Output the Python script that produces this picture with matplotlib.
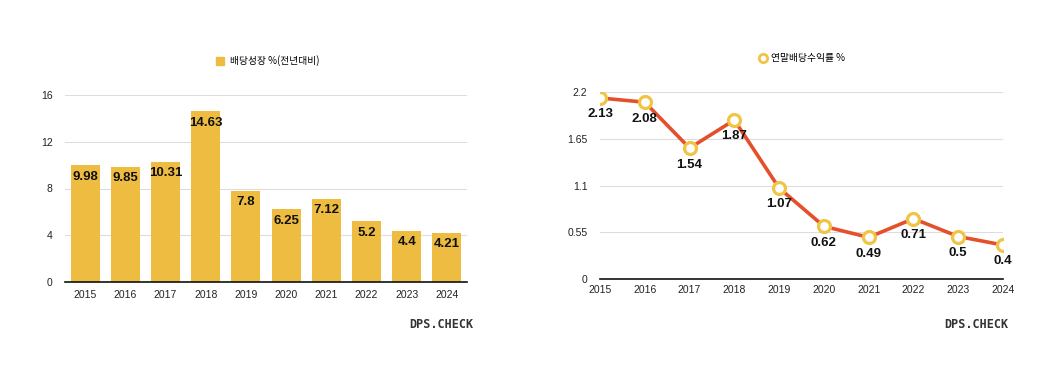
import matplotlib
matplotlib.use("Agg")
import matplotlib.pyplot as plt
from matplotlib.lines import Line2D
from matplotlib.patches import Patch

plt.rcParams['font.family'] = ['Noto Sans CJK KR', 'DejaVu Sans']

years = ['2015', '2016', '2017', '2018', '2019', '2020', '2021', '2022', '2023', '2024']
growth = [9.98, 9.85, 10.31, 14.63, 7.8, 6.25, 7.12, 5.2, 4.4, 4.21]
yield_pct = [2.13, 2.08, 1.54, 1.87, 1.07, 0.62, 0.49, 0.71, 0.5, 0.4]
growth_ticks = [0, 4, 8, 12, 16]
yield_ticks = [0, 0.55, 1.1, 1.65, 2.2]
growth_label = '배당성장 %(전년대비)'
yield_label = '연말배당수익률 %'

BAR = '#EDBC40'
LINE = '#E4502C'
RING = '#F0C445'
GRID = '#DDDDDD'
NUMFONT = 'Liberation Sans'

W, H = 1040, 388
fig = plt.figure(figsize=(W / 100, H / 100), dpi=100)

def ax_rect(x0, y0, x1, y1):
    return [x0 / W, 1 - y1 / H, (x1 - x0) / W, (y1 - y0) / H]

# Left bar chart
ax1 = fig.add_axes(ax_rect(65, 95, 467, 282))
x = list(range(len(years)))
ax1.bar(x, growth, width=0.72, color=BAR, zorder=2)
ax1.set_xlim(-0.5, len(years) - 0.5)
ax1.set_ylim(0, 16)
ax1.set_yticks(growth_ticks)
ax1.set_yticklabels([str(t) for t in growth_ticks])
ax1.set_xticks(x)
ax1.set_xticklabels(years)
for i, v in enumerate(growth):
    ax1.annotate(f'{v:g}', (i, v), xytext=(0, -4), textcoords='offset points',
                 ha='center', va='top', fontsize=9.5, fontweight='bold',
                 color='#111111', family=NUMFONT, zorder=3)
ax1.grid(axis='y', color=GRID, linewidth=0.8, zorder=0)
for s in ['top', 'right', 'left']:
    ax1.spines[s].set_visible(False)
ax1.spines['bottom'].set_color('#111111')
ax1.spines['bottom'].set_linewidth(1.2)
ax1.tick_params(length=0, labelsize=7.5, colors='#222222', pad=6)
ax1.tick_params(axis='y', pad=9)
for lab in ax1.get_xticklabels() + ax1.get_yticklabels():
    lab.set_family(NUMFONT)
fig.legend(handles=[Patch(color=BAR)], labels=[growth_label],
           loc='center', bbox_to_anchor=(268 / W, 1 - 61 / H), frameon=False,
           fontsize=7, handlelength=0.8, handleheight=0.8, handletextpad=0.6)

# Right line chart
ax2 = fig.add_axes(ax_rect(600, 92, 1003, 279))
ax2.plot(x, yield_pct, color=LINE, linewidth=2.6, zorder=2)
ax2.plot(x, yield_pct, linestyle='none', marker='o', markersize=8.6,
         markerfacecolor='white', markeredgecolor=RING, markeredgewidth=2.3, zorder=3)
ax2.set_xlim(0, len(years) - 1)
ax2.set_ylim(0, 2.2)
ax2.set_yticks(yield_ticks)
ax2.set_yticklabels([f'{t:g}' for t in yield_ticks])
ax2.set_xticks(x)
ax2.set_xticklabels(years)
for i, v in enumerate(yield_pct):
    ax2.annotate(f'{v:g}', (i, v), xytext=(0, -7.5), textcoords='offset points',
                 ha='center', va='top', fontsize=9.5, fontweight='bold',
                 color='#111111', family=NUMFONT, zorder=4)
ax2.grid(axis='y', color=GRID, linewidth=0.8, zorder=0)
for s in ['top', 'right', 'left']:
    ax2.spines[s].set_visible(False)
ax2.spines['bottom'].set_color('#111111')
ax2.spines['bottom'].set_linewidth(1.2)
ax2.tick_params(length=0, labelsize=7.5, colors='#222222', pad=4)
ax2.tick_params(axis='y', pad=9)
for lab in ax2.get_xticklabels() + ax2.get_yticklabels():
    lab.set_family(NUMFONT)
fig.legend(handles=[Line2D([], [], linestyle='none', marker='o', markersize=6,
                           markerfacecolor='white', markeredgecolor=RING,
                           markeredgewidth=2)],
           labels=[yield_label], loc='center', bbox_to_anchor=(802 / W, 1 - 58 / H),
           frameon=False, fontsize=7, handlelength=0.8, handletextpad=0.5)

# Watermarks
for xp in (441, 976):
    fig.text(xp / W, 1 - 324 / H, 'DPS.CHECK', ha='center', va='center',
             fontsize=8.5, color='#333333', family='DejaVu Sans Mono',
             fontweight='bold')

fig.savefig('out.png', dpi=100, facecolor='white')
